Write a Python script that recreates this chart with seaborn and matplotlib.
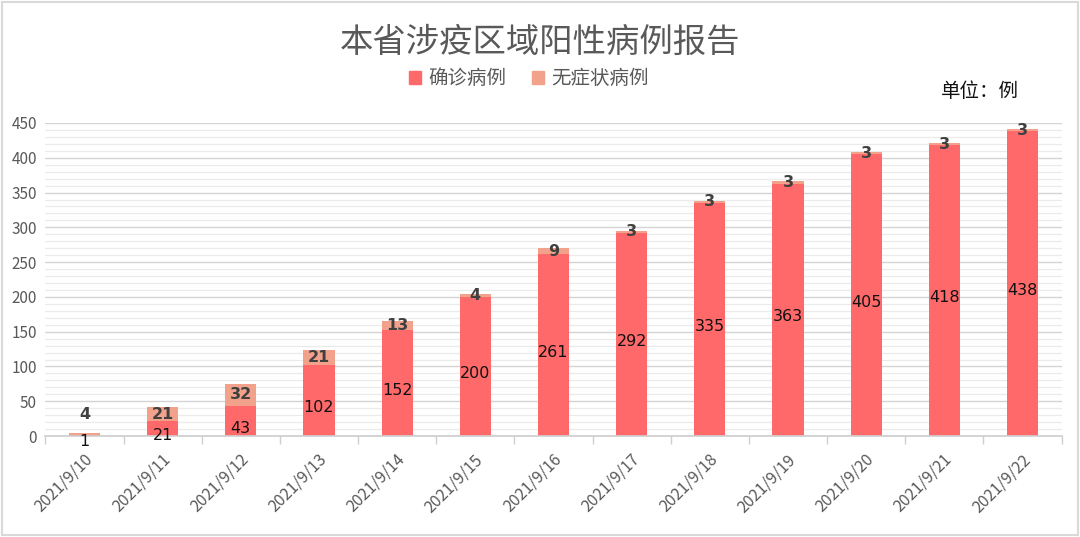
import numpy as np
import pandas as pd
import matplotlib
matplotlib.use("Agg")
import matplotlib.pyplot as plt
import matplotlib.transforms as mtransforms
from matplotlib.patches import Patch, Rectangle
from matplotlib.ticker import MultipleLocator, FixedLocator
import seaborn as sns

# data
dates = ["2021/9/10", "2021/9/11", "2021/9/12", "2021/9/13", "2021/9/14",
         "2021/9/15", "2021/9/16", "2021/9/17", "2021/9/18", "2021/9/19",
         "2021/9/20", "2021/9/21", "2021/9/22"]
confirmed = [1, 21, 43, 102, 152, 200, 261, 292, 335, 363, 405, 418, 438]
asymptomatic = [4, 21, 32, 21, 13, 4, 9, 3, 3, 3, 3, 3, 3]

c_conf = "#FF6969"
c_asym = "#F2A28A"

sns.set_theme(style="white")
plt.rcParams["font.family"] = ["Noto Sans CJK SC", "DejaVu Sans"]

df = pd.DataFrame({"date": dates, "confirmed": confirmed, "asym": asymptomatic})
df["total"] = df["confirmed"] + df["asym"]

fig = plt.figure(figsize=(10.8, 5.37), dpi=100)
ax = fig.add_axes([0.042, 0.188, 0.941, 0.583])

sns.barplot(data=df, x="date", y="total", color=c_asym, width=0.4,
            saturation=1, linewidth=0, ax=ax, zorder=3)
sns.barplot(data=df, x="date", y="confirmed", color=c_conf, width=0.4,
            saturation=1, linewidth=0, ax=ax, zorder=4)

ax.set_ylim(0, 450)
ax.set_xlim(-0.5, len(dates) - 0.5)
ax.yaxis.set_major_locator(MultipleLocator(50))
ax.yaxis.set_minor_locator(MultipleLocator(10))
ax.grid(which="major", axis="y", color="#D4D4D4", lw=1.0, zorder=0)
ax.grid(which="minor", axis="y", color="#EBEBEB", lw=0.9, zorder=0)
ax.set_axisbelow(True)
for s in ["top", "right", "left"]:
    ax.spines[s].set_visible(False)
ax.spines["bottom"].set_color("#CFCFCF")
ax.spines["bottom"].set_zorder(5)

ax.set_xlabel("")
ax.set_ylabel("")
ax.tick_params(axis="y", which="both", length=0, labelsize=11, colors="#595959", pad=6)
ax.set_xticks(range(len(dates)))
ax.set_xticklabels(dates, rotation=45, ha="right", va="center", rotation_mode="anchor")
ax.tick_params(axis="x", which="major", length=0, labelsize=11.5, colors="#595959", pad=15)
shift = mtransforms.ScaledTranslation(5 / 100, 0, fig.dpi_scale_trans)
for lab in ax.get_xticklabels():
    lab.set_transform(lab.get_transform() + shift)
ax.xaxis.set_minor_locator(FixedLocator(np.arange(-0.5, len(dates), 1.0)))
ax.tick_params(axis="x", which="minor", bottom=True, length=6, color="#CFCFCF", width=1)

# value labels
for i, (c, a) in enumerate(zip(confirmed, asymptomatic)):
    if i == 0:
        ax.annotate(str(c), (i, 0), xytext=(0, -4), textcoords="offset points",
                    ha="center", va="center", fontsize=11.5, color="#111111",
                    family="DejaVu Sans", zorder=6)
        ax.annotate(str(a), (i, c + a), xytext=(0, 13), textcoords="offset points",
                    ha="center", va="center", fontsize=11.5, color="#404040",
                    fontweight="bold", family="DejaVu Sans", zorder=6)
        continue
    ax.annotate(str(c), (i, c / 2), xytext=(0, -5), textcoords="offset points",
                ha="center", va="center", fontsize=11.5, color="#111111",
                family="DejaVu Sans", zorder=6)
    ax.annotate(str(a), (i, c + a / 2), xytext=(0, 0), textcoords="offset points",
                ha="center", va="center", fontsize=11.5, color="#404040",
                fontweight="bold", family="DejaVu Sans", zorder=6)

fig.text(0.5, 0.922, "本省涉疫区域阳性病例报告", ha="center", va="center",
         fontsize=24, color="#595959")
handles = [Patch(color=c_conf, label="确诊病例"), Patch(color=c_asym, label="无症状病例")]
fig.legend(handles=handles, loc="center", bbox_to_anchor=(0.49, 0.853), ncol=2,
           frameon=False, fontsize=14, handlelength=0.6, handleheight=0.6,
           columnspacing=1.3, handletextpad=0.4, labelcolor="#595959")
fig.text(0.907, 0.83, "单位：例", ha="center", va="center", fontsize=14, color="#111111")

fig.patches.append(Rectangle((0.002, 0.003), 0.996, 0.994, transform=fig.transFigure,
                             fill=False, edgecolor="#D9D9D9", lw=1.5))

fig.savefig("out.png", dpi=100)
